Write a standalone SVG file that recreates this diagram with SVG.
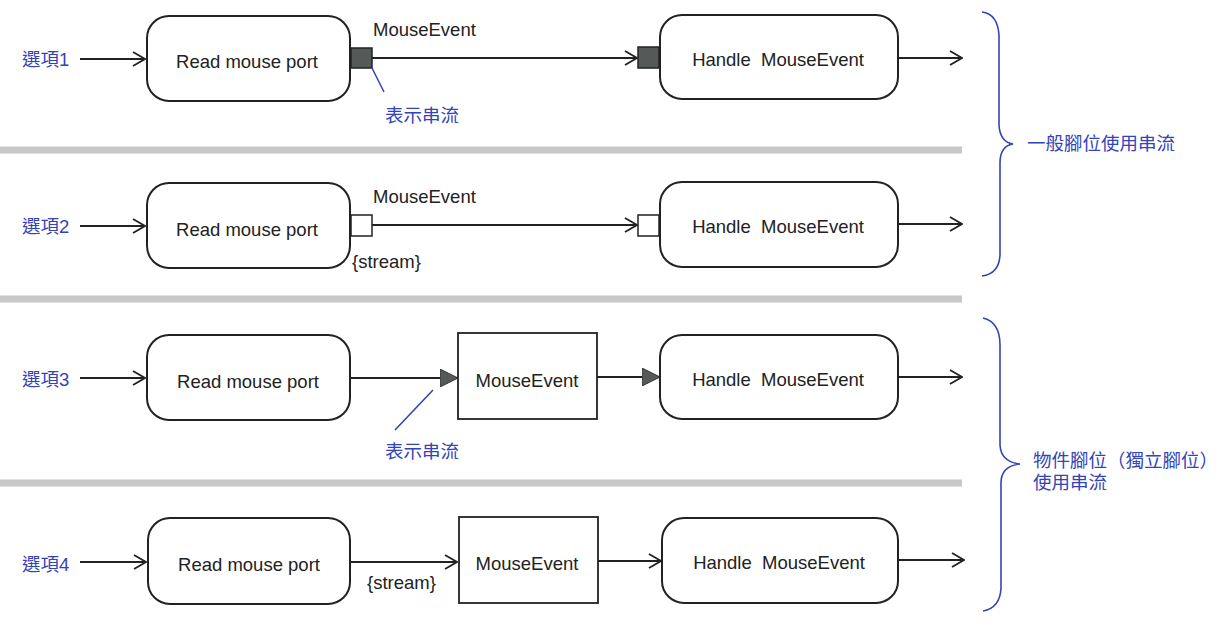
<svg xmlns="http://www.w3.org/2000/svg" width="1222" height="624" viewBox="0 0 1222 624">
<style>
.bg{fill:#fff}
.act{fill:#fff;stroke:#222;stroke-width:2}
.obj{fill:#fff;stroke:#222;stroke-width:1.8}
.pinf{fill:#555a58;stroke:#222;stroke-width:1.5}
.pinh{fill:#fff;stroke:#222;stroke-width:1.5}
.ln{stroke:#222;stroke-width:1.8;fill:none}
.sep{stroke:#c8c8c8;stroke-width:7}
.bl{stroke:#3344b8;stroke-width:1.6;fill:none}
.t{font-family:"Liberation Sans",Arial,sans-serif;font-size:18.5px;fill:#222}
.c{font-family:"Liberation Sans","Noto Sans CJK TC",sans-serif;font-size:18.5px;fill:#3344b8}
</style>
<defs>
<marker id="open" viewBox="0 0 14 16" refX="13" refY="8" markerWidth="14" markerHeight="16" markerUnits="userSpaceOnUse" orient="auto">
<path d="M1,1 L13,8 L1,15" fill="none" stroke="#222" stroke-width="1.8"/>
</marker>
<marker id="tri" viewBox="0 0 18 18" refX="18" refY="9" markerWidth="18" markerHeight="18" markerUnits="userSpaceOnUse" orient="auto">
<path d="M0,0 L18,9 L0,18 Z" fill="#555a58" stroke="#333" stroke-width="1"/>
</marker>
</defs>
<rect class="bg" width="1222" height="624"/>
<g id="separators">
<line class="sep" x1="0" y1="150" x2="962" y2="150"/>
<line class="sep" x1="0" y1="299" x2="962" y2="299"/>
<line class="sep" x1="0" y1="483" x2="962" y2="483"/>
</g>
<g id="connectors">
<line class="ln" x1="80" y1="59" x2="145" y2="59" marker-end="url(#open)"/>
<line class="ln" x1="372" y1="58" x2="637" y2="58" marker-end="url(#open)"/>
<line class="ln" x1="898" y1="58" x2="962" y2="58" marker-end="url(#open)"/>
<line class="ln" x1="80" y1="226" x2="145" y2="226" marker-end="url(#open)"/>
<line class="ln" x1="372" y1="225" x2="637" y2="225" marker-end="url(#open)"/>
<line class="ln" x1="898" y1="224" x2="962" y2="224" marker-end="url(#open)"/>
<line class="ln" x1="80" y1="378" x2="145" y2="378" marker-end="url(#open)"/>
<line class="ln" x1="350" y1="378" x2="458" y2="378" marker-end="url(#tri)"/>
<line class="ln" x1="597" y1="377" x2="660" y2="377" marker-end="url(#tri)"/>
<line class="ln" x1="898" y1="377" x2="962" y2="377" marker-end="url(#open)"/>
<line class="ln" x1="80" y1="562" x2="146" y2="562" marker-end="url(#open)"/>
<line class="ln" x1="350" y1="562" x2="457" y2="562" marker-end="url(#open)"/>
<line class="ln" x1="598" y1="561" x2="661" y2="561" marker-end="url(#open)"/>
<line class="ln" x1="898" y1="560" x2="964" y2="560" marker-end="url(#open)"/>
</g>
<g id="row1">
<text class="c" x="22" y="66">選項1</text>
<g id="read1"><rect class="act" x="147" y="16" width="203" height="85" rx="22"/><text class="t" x="247" y="68" text-anchor="middle">Read mouse port</text></g>
<rect id="pin1a" class="pinf" x="351" y="48" width="21" height="20"/>
<text class="t" x="373" y="36">MouseEvent</text>
<g id="handle1"><rect class="act" x="660" y="15" width="238" height="84" rx="22"/><text class="t" x="778" y="66" text-anchor="middle" xml:space="preserve">Handle  MouseEvent</text></g>
<rect id="pin1b" class="pinf" x="638" y="47" width="21" height="21"/>
<line class="bl" x1="372" y1="68" x2="384" y2="92"/>
<text class="c" x="385" y="122">表示串流</text>
</g>
<g id="row2">
<text class="c" x="22" y="233">選項2</text>
<g id="read2"><rect class="act" x="147" y="183" width="203" height="85" rx="22"/><text class="t" x="247" y="236" text-anchor="middle">Read mouse port</text></g>
<rect id="pin2a" class="pinh" x="351" y="215" width="21" height="21"/>
<text class="t" x="373" y="203">MouseEvent</text>
<text class="t" x="352" y="268">{stream}</text>
<g id="handle2"><rect class="act" x="660" y="182" width="238" height="85" rx="22"/><text class="t" x="778" y="233" text-anchor="middle" xml:space="preserve">Handle  MouseEvent</text></g>
<rect id="pin2b" class="pinh" x="638" y="215" width="21" height="21"/>
</g>
<g id="row3">
<text class="c" x="22" y="386">選項3</text>
<g id="read3"><rect class="act" x="147" y="335" width="203" height="85" rx="22"/><text class="t" x="248" y="388" text-anchor="middle">Read mouse port</text></g>
<g id="obj3"><rect class="obj" x="458" y="333" width="139" height="86"/><text class="t" x="527" y="387" text-anchor="middle">MouseEvent</text></g>
<g id="handle3"><rect class="act" x="660" y="335" width="238" height="84" rx="22"/><text class="t" x="778" y="386" text-anchor="middle" xml:space="preserve">Handle  MouseEvent</text></g>
<line class="bl" x1="433" y1="390" x2="395" y2="430"/>
<text class="c" x="385" y="458">表示串流</text>
</g>
<g id="row4">
<text class="c" x="22" y="571">選項4</text>
<g id="read4"><rect class="act" x="148" y="518" width="202" height="86" rx="22"/><text class="t" x="249" y="571" text-anchor="middle">Read mouse port</text></g>
<text class="t" x="367" y="589">{stream}</text>
<g id="obj4"><rect class="obj" x="459" y="517" width="139" height="86"/><text class="t" x="527" y="570" text-anchor="middle">MouseEvent</text></g>
<g id="handle4"><rect class="act" x="662" y="518" width="236" height="85" rx="22"/><text class="t" x="779" y="569" text-anchor="middle" xml:space="preserve">Handle  MouseEvent</text></g>
</g>
<g id="brace1">
<path class="bl" d="M982,12 Q998,14 999,36 L999,125 Q1000,142 1013,144 Q1000,146 1000,163 L1000,255 Q999,274 982,276"/>
<text class="c" x="1027" y="150">一般腳位使用串流</text>
</g>
<g id="brace2">
<path class="bl" d="M983,318 Q1000,322 1000,345 L1000,445 Q1001,462 1020,464 Q1001,466 1001,483 L1001,588 Q1000,608 983,611"/>
<text class="c" x="1033" y="467">物件腳位（獨立腳位）</text>
<text class="c" x="1033" y="489">使用串流</text>
</g>
</svg>
